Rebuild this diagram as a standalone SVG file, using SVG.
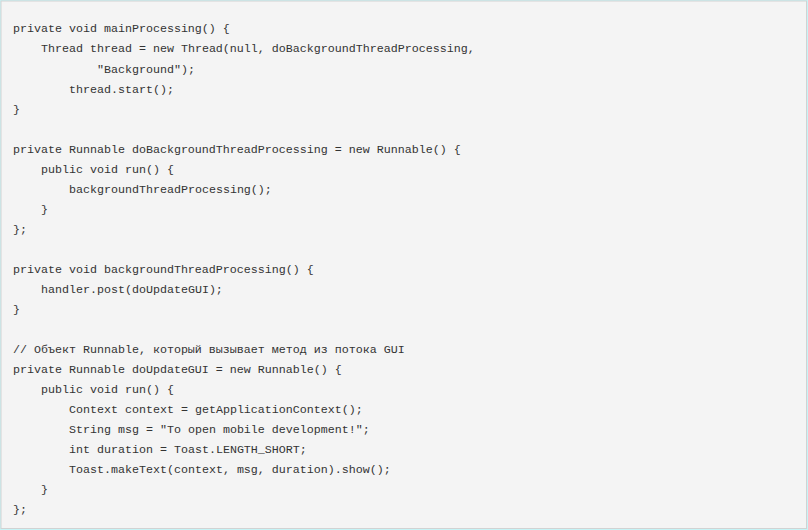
<svg xmlns="http://www.w3.org/2000/svg" width="808" height="530" viewBox="0 0 808 530">
<style>
.code{font-family:"Liberation Mono","DejaVu Sans Mono",monospace;font-size:11.67px;fill:#333333}
</style>
<rect x="0" y="0" width="808" height="530" fill="#c6f4f6"/>
<g id="codebox">
<rect x="1" y="1" width="805.5" height="527.5" fill="#f4f4f4" stroke="#d2d2d2" stroke-width="1"/>
</g>
<g id="code" class="code">
<text x="13" y="32">private void mainProcessing() {</text>
<text x="41" y="52">Thread thread = new Thread(null, doBackgroundThreadProcessing,</text>
<text x="97" y="73">"Background");</text>
<text x="69" y="93">thread.start();</text>
<text x="13" y="113">}</text>
<text x="13" y="153">private Runnable doBackgroundThreadProcessing = new Runnable() {</text>
<text x="41" y="173">public void run() {</text>
<text x="69" y="193">backgroundThreadProcessing();</text>
<text x="41" y="213">}</text>
<text x="13" y="233">};</text>
<text x="13" y="273">private void backgroundThreadProcessing() {</text>
<text x="41" y="293">handler.post(doUpdateGUI);</text>
<text x="13" y="313">}</text>
<text x="13" y="353">// Объект Runnable, который вызывает метод из потока GUI</text>
<text x="13" y="373">private Runnable doUpdateGUI = new Runnable() {</text>
<text x="41" y="393">public void run() {</text>
<text x="69" y="413">Context context = getApplicationContext();</text>
<text x="69" y="433">String msg = "To open mobile development!";</text>
<text x="69" y="453">int duration = Toast.LENGTH_SHORT;</text>
<text x="69" y="473">Toast.makeText(context, msg, duration).show();</text>
<text x="41" y="493">}</text>
<text x="13" y="513">};</text>
</g>
</svg>
